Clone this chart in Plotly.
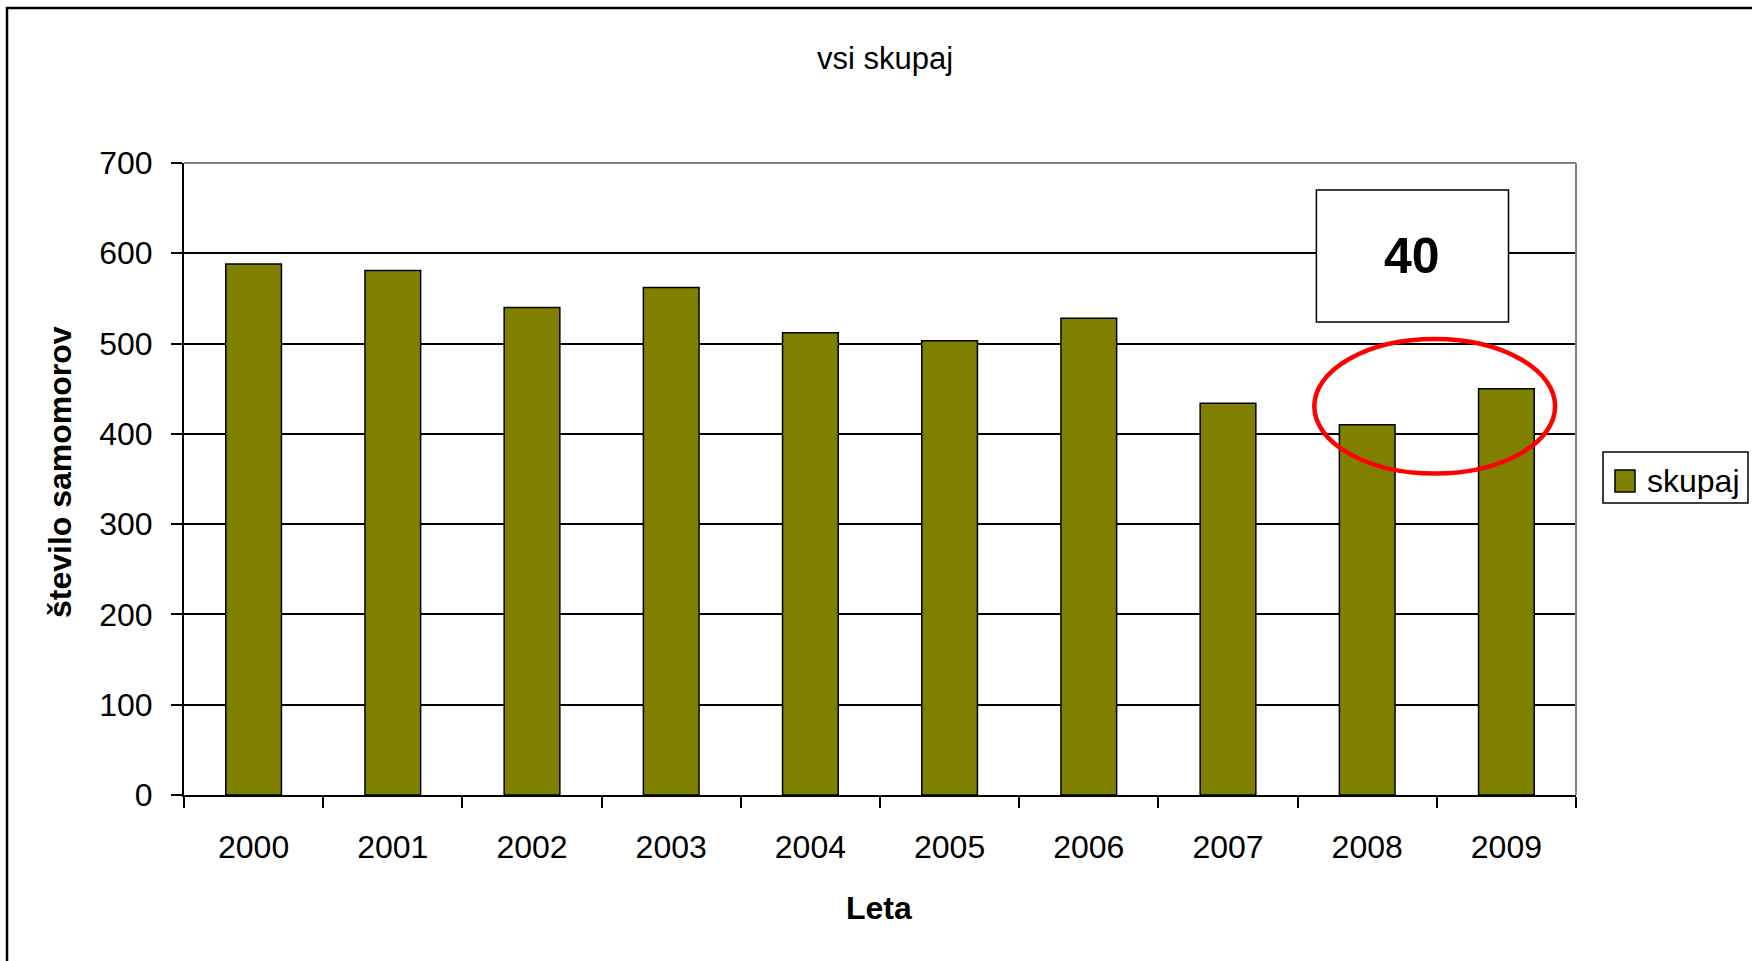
import plotly.graph_objects as go

years = ["2000", "2001", "2002", "2003", "2004", "2005", "2006", "2007", "2008", "2009"]
values = [588, 581, 540, 562, 512, 503, 528, 434, 410, 450]
series_name = "skupaj"
title_text = "vsi skupaj"
x_title = "Leta"
y_title = "število samomorov"
diff_label = "40"

FONT = "Liberation Sans, Arial, sans-serif"
L, R, T, B = 184, 176, 163, 166
W, H = 1752, 961
pw, ph = W - L - R, H - T - B

def px_x(px):
    return (px - L) / pw

def px_y(py):
    return (H - B - py) / ph

fig = go.Figure()
fig.add_trace(go.Bar(
    x=years, y=values, name=series_name,
    marker=dict(color="#808000", line=dict(color="black", width=1.5)),
    showlegend=False,
))

fig.update_layout(
    width=W, height=H,
    margin=dict(l=L, r=R, t=T, b=B),
    paper_bgcolor="white", plot_bgcolor="white",
    bargap=0.6,
    font=dict(family=FONT, color="black"),
    xaxis=dict(
        type="category",
        tickson="boundaries", ticks="outside", ticklen=11, tickwidth=1.5, tickcolor="black",
        showline=True, linecolor="black", linewidth=2,
        showgrid=False, zeroline=False,
        tickfont=dict(size=32, family=FONT), ticklabelstandoff=23,
    ),
    yaxis=dict(
        range=[0, 700], dtick=100, tick0=0,
        ticks="outside", ticklen=11, tickwidth=1.5, tickcolor="black",
        showline=True, linecolor="black", linewidth=2,
        showgrid=True, gridcolor="black", gridwidth=1.5, zeroline=False,
        tickfont=dict(size=32, family=FONT), ticklabelstandoff=12,
    ),
)

shapes = [
    # top and right plot border (gray)
    dict(type="line", xref="paper", yref="paper", x0=0, x1=1, y0=1, y1=1,
         line=dict(color="#808080", width=2), layer="above"),
    dict(type="line", xref="paper", yref="paper", x0=1, x1=1, y0=0, y1=1,
         line=dict(color="#808080", width=2), layer="above"),
    # outer chart frame
    dict(type="rect", xref="paper", yref="paper", x0=px_x(7), x1=px_x(1800),
         y0=px_y(1000), y1=px_y(8), line=dict(color="black", width=2.5), layer="below"),
    # box with difference
    dict(type="rect", xref="x", yref="y", x0=7.635, x1=9.015, y0=524, y1=670,
         line=dict(color="black", width=1.5), fillcolor="white", layer="above"),
    # red ellipse
    dict(type="circle", xref="x", yref="y", x0=7.62, x1=9.35, y0=356, y1=505,
         line=dict(color="#FF0000", width=4.5), layer="above"),
    # legend box
    dict(type="rect", xref="paper", yref="paper", x0=px_x(1603), x1=px_x(1748),
         y0=px_y(503), y1=px_y(452), line=dict(color="black", width=1.5),
         fillcolor="white", layer="above"),
    # legend swatch
    dict(type="rect", xref="paper", yref="paper", x0=px_x(1615), x1=px_x(1635),
         y0=px_y(492), y1=px_y(470), line=dict(color="black", width=1.5),
         fillcolor="#808000", layer="above"),
]
fig.update_layout(shapes=shapes)

annotations = [
    dict(text=title_text, xref="paper", yref="paper", x=px_x(885), y=px_y(58),
         xanchor="center", yanchor="middle", showarrow=False,
         font=dict(size=31, family=FONT)),
    dict(text="<b>" + x_title + "</b>", xref="paper", yref="paper", x=px_x(879), y=px_y(908),
         xanchor="center", yanchor="middle", showarrow=False,
         font=dict(size=32, family=FONT)),
    dict(text="<b>" + y_title + "</b>", xref="paper", yref="paper", x=px_x(60), y=px_y(472),
         xanchor="center", yanchor="middle", showarrow=False, textangle=-90,
         font=dict(size=32, family=FONT)),
    dict(text="<b>" + diff_label + "</b>", xref="x", yref="y", x=8.325, y=597,
         xanchor="center", yanchor="middle", showarrow=False,
         font=dict(size=50, family=FONT)),
    dict(text=series_name, xref="paper", yref="paper", x=px_x(1645), y=px_y(481),
         xanchor="left", yanchor="middle", showarrow=False,
         font=dict(size=32, family=FONT)),
]
fig.update_layout(annotations=annotations)

fig.write_html("out.html", config={"displayModeBar": False},
               post_script="document.body.style.margin='0';")
